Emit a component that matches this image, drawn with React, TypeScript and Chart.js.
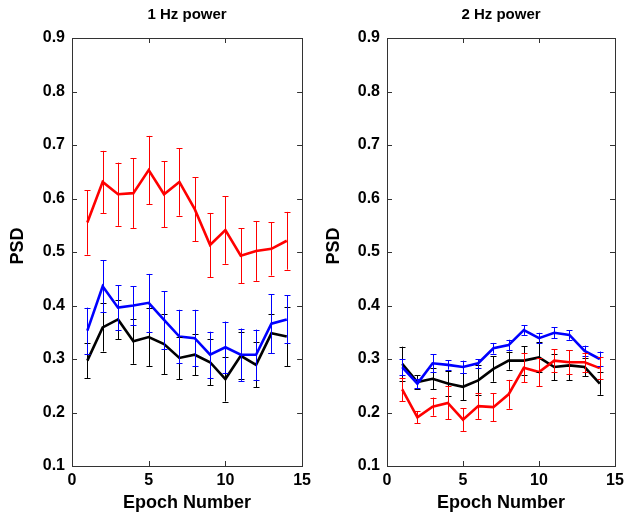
import { useEffect, useRef } from "react";
import { Chart, registerables } from "chart.js";

Chart.register(...registerables);

const epochs = [1, 2, 3, 4, 5, 6, 7, 8, 9, 10, 11, 12, 13, 14];
const xTicks = [0, 5, 10, 15];
const yTicks = [0.1, 0.2, 0.3, 0.4, 0.5, 0.6, 0.7, 0.8, 0.9];

// 1 Hz power
const hz1Red = [0.555, 0.631, 0.608, 0.61, 0.653, 0.608, 0.631, 0.58, 0.513, 0.541, 0.493, 0.502, 0.506, 0.521];
const hz1RedErr = [0.06, 0.058, 0.059, 0.065, 0.064, 0.062, 0.063, 0.06, 0.06, 0.063, 0.051, 0.056, 0.05, 0.054];
const hz1Blue = [0.353, 0.436, 0.396, 0.4, 0.405, 0.373, 0.342, 0.339, 0.308, 0.322, 0.308, 0.308, 0.366, 0.374];
const hz1BlueErr = [0.043, 0.049, 0.042, 0.036, 0.054, 0.054, 0.05, 0.053, 0.043, 0.048, 0.049, 0.047, 0.055, 0.045];
const hz1Black = [0.297, 0.359, 0.374, 0.333, 0.341, 0.328, 0.302, 0.308, 0.294, 0.2625, 0.306, 0.289, 0.348, 0.342];
const hz1BlackErr = [0.033, 0.045, 0.037, 0.042, 0.054, 0.056, 0.04, 0.038, 0.043, 0.042, 0.044, 0.042, 0.037, 0.055];

// 2 Hz power
const hz2Red = [0.243, 0.191, 0.211, 0.218, 0.1865, 0.212, 0.21, 0.234, 0.2835, 0.2755, 0.297, 0.294, 0.294, 0.283];
const hz2RedErr = [0.022, 0.011, 0.017, 0.031, 0.021, 0.024, 0.026, 0.027, 0.027, 0.026, 0.021, 0.022, 0.018, 0.02];
const hz2Blue = [0.285, 0.254, 0.292, 0.289, 0.285, 0.292, 0.32, 0.326, 0.354, 0.339, 0.349, 0.345, 0.315, 0.3];
const hz2BlueErr = [0.015, 0.009, 0.017, 0.009, 0.012, 0.008, 0.01, 0.01, 0.009, 0.01, 0.01, 0.009, 0.01, 0.014];
const hz2Black = [0.291, 0.257, 0.263, 0.254, 0.248, 0.26, 0.2815, 0.297, 0.297, 0.303, 0.285, 0.288, 0.285, 0.254];
const hz2BlackErr = [0.032, 0.013, 0.02, 0.024, 0.025, 0.028, 0.024, 0.017, 0.027, 0.028, 0.025, 0.028, 0.017, 0.021];

const FONT = '"Liberation Sans", Arial, Helvetica, sans-serif';
const RED = "#ff0000";
const BLUE = "#0000ff";
const BLACK = "#000000";
const FRAME = "#333333";

type Series = { color: string; values: number[]; errs: number[] };

function buildChart(
  canvas: HTMLCanvasElement,
  title: string,
  series: Series[],
  yAxisWidth: number,
  rightPad: number
) {
  const plugin = {
    id: "matlabDecor",
    afterDatasetsDraw(chart: any) {
      const { ctx } = chart;
      const xs = chart.scales.x;
      const ys = chart.scales.y;
      ctx.save();
      ctx.lineWidth = 1;
      for (let s = series.length - 1; s >= 0; s--) {
        const ser = series[s];
        ctx.strokeStyle = ser.color;
        ctx.beginPath();
        epochs.forEach((ep, i) => {
          const px = Math.round(xs.getPixelForValue(ep)) + 0.5;
          const top = ys.getPixelForValue(ser.values[i] + ser.errs[i]);
          const bot = ys.getPixelForValue(ser.values[i] - ser.errs[i]);
          ctx.moveTo(px, top);
          ctx.lineTo(px, bot);
          ctx.moveTo(px - 3, Math.round(top) + 0.5);
          ctx.lineTo(px + 3, Math.round(top) + 0.5);
          ctx.moveTo(px - 3, Math.round(bot) + 0.5);
          ctx.lineTo(px + 3, Math.round(bot) + 0.5);
        });
        ctx.stroke();
      }
      ctx.restore();
    },
    afterDraw(chart: any) {
      const { ctx, chartArea } = chart;
      const xs = chart.scales.x;
      const ys = chart.scales.y;
      const { left, right, top, bottom } = chartArea;
      ctx.save();
      ctx.strokeStyle = FRAME;
      ctx.lineWidth = 1;
      ctx.strokeRect(Math.round(left) + 0.5, Math.round(top) + 0.5, Math.round(right - left), Math.round(bottom - top));
      const tl = 5;
      ctx.beginPath();
      xTicks.forEach((t) => {
        const px = Math.round(xs.getPixelForValue(t)) + 0.5;
        ctx.moveTo(px, bottom);
        ctx.lineTo(px, bottom - tl);
        ctx.moveTo(px, top);
        ctx.lineTo(px, top + tl);
      });
      yTicks.forEach((t) => {
        const py = Math.round(ys.getPixelForValue(t)) + 0.5;
        ctx.moveTo(left, py);
        ctx.lineTo(left + tl, py);
        ctx.moveTo(right, py);
        ctx.lineTo(right - tl, py);
      });
      ctx.stroke();

      ctx.fillStyle = "#000";
      const cx = (left + right) / 2;
      ctx.font = `bold 15px ${FONT}`;
      ctx.textAlign = "center";
      ctx.textBaseline = "middle";
      ctx.fillText(title, cx, 15);

      ctx.font = `bold 18px ${FONT}`;
      ctx.textBaseline = "alphabetic";
      ctx.fillText("Epoch Number", cx, 508);

      ctx.save();
      ctx.translate(18, (top + bottom) / 2 - 6);
      ctx.rotate(-Math.PI / 2);
      ctx.textAlign = "center";
      ctx.textBaseline = "middle";
      ctx.font = `bold 18px ${FONT}`;
      ctx.fillText("PSD", 0, 0);
      ctx.restore();
      ctx.restore();
    },
  };

  return new Chart(canvas, {
    type: "line",
    data: {
      datasets: series.map((ser) => ({
        data: epochs.map((ep, i) => ({ x: ep, y: ser.values[i] })),
        borderColor: ser.color,
        backgroundColor: ser.color,
        borderWidth: 2.6,
        pointRadius: 0,
        tension: 0,
        fill: false,
      })),
    },
    options: {
      animation: false,
      responsive: false,
      maintainAspectRatio: false,
      events: [],
      layout: { padding: { top: 38, right: rightPad, left: 0, bottom: 0 } },
      plugins: { legend: { display: false }, tooltip: { enabled: false }, title: { display: false } },
      scales: {
        x: {
          type: "linear",
          min: 0,
          max: 15,
          afterFit: (s: any) => {
            s.height = 58;
          },
          afterBuildTicks: (s: any) => {
            s.ticks = xTicks.map((v) => ({ value: v }));
          },
          grid: { display: false, drawTicks: false },
          border: { display: false },
          ticks: {
            padding: 5,
            maxRotation: 0,
            autoSkip: false,
            color: "#000",
            font: { family: FONT, size: 16, weight: "bold" },
            callback: (v: any) => String(v),
          },
        },
        y: {
          type: "linear",
          min: 0.1,
          max: 0.9,
          afterFit: (s: any) => {
            s.width = yAxisWidth;
          },
          afterBuildTicks: (s: any) => {
            s.ticks = yTicks.map((v) => ({ value: v }));
          },
          grid: { display: false, drawTicks: false },
          border: { display: false },
          ticks: {
            padding: 7,
            autoSkip: false,
            color: "#000",
            font: { family: FONT, size: 16, weight: "bold" },
            callback: (v: any) => Number(v).toFixed(1),
          },
        },
      },
    },
    plugins: [plugin],
  } as any);
}

export default function App() {
  const leftRef = useRef<HTMLCanvasElement>(null);
  const rightRef = useRef<HTMLCanvasElement>(null);

  useEffect(() => {
    const c1 = buildChart(
      leftRef.current!,
      "1 Hz power",
      [
        { color: RED, values: hz1Red, errs: hz1RedErr },
        { color: BLUE, values: hz1Blue, errs: hz1BlueErr },
        { color: BLACK, values: hz1Black, errs: hz1BlackErr },
      ],
      72,
      12
    );
    const c2 = buildChart(
      rightRef.current!,
      "2 Hz power",
      [
        { color: RED, values: hz2Red, errs: hz2RedErr },
        { color: BLUE, values: hz2Blue, errs: hz2BlueErr },
        { color: BLACK, values: hz2Black, errs: hz2BlackErr },
      ],
      71,
      17
    );
    return () => {
      c1.destroy();
      c2.destroy();
    };
  }, []);

  return (
    <div style={{ position: "fixed", left: 0, top: 0, width: 632, height: 524, background: "#fff" }}>
      <canvas ref={leftRef} width={316} height={524} style={{ position: "absolute", left: 0, top: 0, width: 316, height: 524 }} />
      <canvas ref={rightRef} width={316} height={524} style={{ position: "absolute", left: 316, top: 0, width: 316, height: 524 }} />
    </div>
  );
}
